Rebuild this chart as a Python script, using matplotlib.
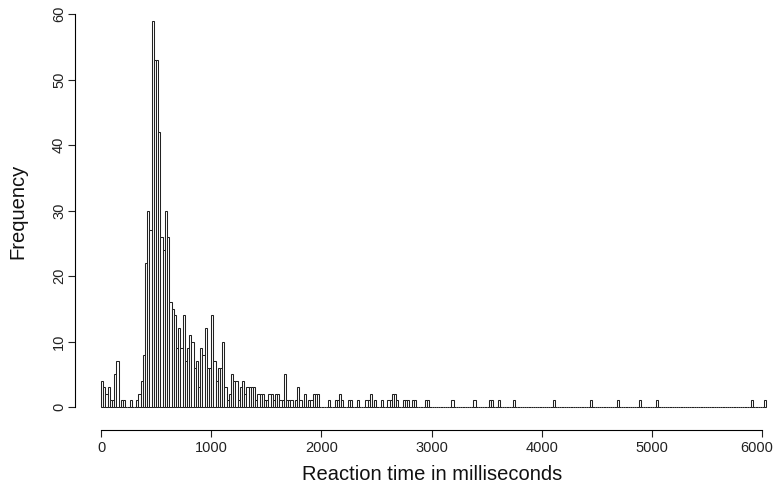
import numpy as np
import matplotlib
matplotlib.use('Agg')
import matplotlib.pyplot as plt
import matplotlib.transforms as mtransforms

plt.rcParams['font.family'] = ['Liberation Sans', 'DejaVu Sans']

# histogram of reaction times, 20 ms bins starting at 0
bin_width = 20
# counts for the dense part, bins 0-20 ms ... 1980-2000 ms
dense_counts = [4, 3, 2, 3, 1, 1, 5, 7, 0, 1, 1, 0, 0, 1, 0, 0, 1, 2, 4, 8,
                22, 30, 27, 59, 53, 53, 42, 26, 24, 30, 26, 16, 15, 14, 9, 12,
                9, 14, 7, 9, 11, 10, 6, 7, 3, 9, 8, 12, 6, 6, 14,
                7, 4, 6, 6, 10, 3, 1, 2, 5, 4, 4, 1, 3, 4, 2, 3, 3, 3, 3, 1,
                2, 2, 2, 1, 1, 2, 2, 1, 2, 2, 1, 1, 5,
                1, 1, 1, 0, 1, 3, 1, 0, 2, 0, 1, 1, 2, 2, 2]
# individual slow responses (ms) in the long tail
tail_times = [2070, 2130, 2150, 2170, 2170, 2190, 2250, 2270, 2330, 2410, 2430,
              2450, 2450, 2490, 2550, 2610, 2630, 2650, 2650, 2670, 2670, 2690,
              2750, 2770, 2790, 2830, 2850, 2950, 2970, 3190, 3390, 3530, 3550,
              3610, 3750, 4110, 4450, 4690, 4890, 5050, 5910, 6030]
x_ticks = [0, 1000, 2000, 3000, 4000, 5000, 6000]
y_ticks = [0, 10, 20, 30, 40, 50, 60]

edges = np.arange(0, 6040 + bin_width, bin_width)
counts = np.zeros(len(edges) - 1)
counts[:len(dense_counts)] = dense_counts
tail_counts, _ = np.histogram(tail_times, bins=edges)
counts = counts + tail_counts

W, H = 773, 487
fig = plt.figure(figsize=(W / 100, H / 100), dpi=100)
# plot region in pixels: left 75, right 773, top 5, bottom 430
ax = fig.add_axes([75 / W, (H - 430) / H, (W - 75) / W, (430 - 5) / H])

kx = (762 - 101) / 6000.0
ky = (407 - 14) / 60.0
ax.set_xlim(-(101 - 75) / kx, (773 - 101) / kx)
ax.set_ylim(-(430 - 407) / ky, (407 - 5) / ky)

ax.bar(edges[:-1], counts, width=bin_width, align='edge',
       color='white', edgecolor='#222222', linewidth=0.75)

for s in ['top', 'right']:
    ax.spines[s].set_visible(False)
ax.spines['left'].set_bounds(0, 60)
ax.spines['bottom'].set_bounds(0, 6000)
ax.spines['left'].set_linewidth(0.8)
ax.spines['bottom'].set_linewidth(0.8)

ax.set_xticks(x_ticks)
ax.set_yticks(y_ticks)
ax.tick_params(axis='both', direction='out', length=5, width=0.8, color='#222222',
               labelsize=10.5, labelcolor='#222222')
ax.tick_params(axis='x', pad=3)
ax.tick_params(axis='y', pad=1.5)
for lab in ax.get_yticklabels():
    lab.set_rotation(90)
    lab.set_va('center')

# keep the last x label inside the image edge
last = ax.get_xticklabels()[-1]
last.set_transform(last.get_transform() +
                   mtransforms.ScaledTranslation(-5 / 100, 0, fig.dpi_scale_trans))

fig.text(432 / W, 1 - 475 / H, 'Reaction time in milliseconds',
         ha='center', va='center', fontsize=14.5, color='#111111')
fig.text(18 / W, 1 - 211 / H, 'Frequency', rotation=90,
         ha='center', va='center', fontsize=14.5, color='#111111')

fig.savefig('out.png', dpi=100, facecolor='white')
